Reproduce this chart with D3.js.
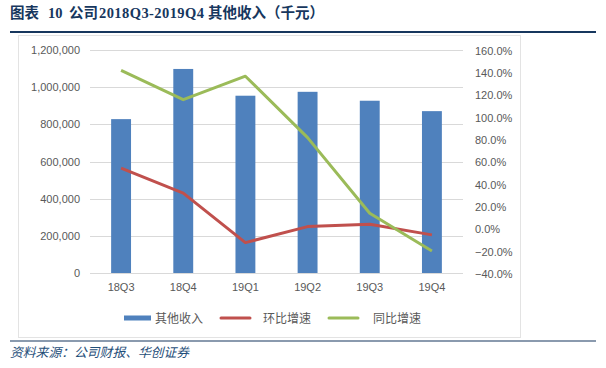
<!DOCTYPE html>
<html><head><meta charset="utf-8">
<script src="https://cdn.jsdelivr.net/npm/d3@7"></script>
<style>
html,body{margin:0;padding:0;background:#fff;}
svg{display:block;}
</style></head>
<body>
<script>
const categories = ["18Q3","18Q4","19Q1","19Q2","19Q3","19Q4"];
const otherIncome = [828000, 1098000, 954000, 975000, 927000, 871000];
const qoqGrowth = [0.548, 0.324, -0.119, 0.024, 0.045, -0.05];
const yoyGrowth = [1.423, 1.16, 1.37, 0.82, 0.144, -0.194];
const leftTicks = [0, 200000, 400000, 600000, 800000, 1000000, 1200000];
const rightTicks = [-0.4,-0.2,0,0.2,0.4,0.6,0.8,1.0,1.2,1.4,1.6];
const legendLabels = ["其他收入","环比增速","同比增速"];
const titleParts = ["图表", "10", "公司", "2018Q3-2019Q4", "其他收入", "（千元）"];
const sourceText = "资料来源：公司财报、华创证券";

const W = 606, H = 368;
const svg = d3.select("body").append("svg").attr("width", W).attr("height", H);

const navy = "#17375e";
const barColor = "#4f81bd", red = "#c0504d", green = "#9bbb59";
const grid = "#d9d9d9", labelColor = "#595959";
const sans = "'Liberation Sans', Arial, sans-serif";
const cjk = "'Noto Sans CJK SC', sans-serif";

// Title
const title = svg.append("text").attr("y", 18)
  .attr("font-family", "'Liberation Serif', 'Noto Sans CJK SC', serif")
  .attr("font-weight", "bold").attr("font-size", 14.5).attr("fill", navy);
const titleX = [10, 48, 69, 99, 208, 266];
titleParts.forEach((t, i) => {
  const ts = title.append("tspan").attr("x", titleX[i]).text(t);
  if (i === 3) ts.attr("textLength", 105).attr("lengthAdjust", "spacing");
});
svg.append("line").attr("x1", 10).attr("x2", 596).attr("y1", 32).attr("y2", 32)
  .attr("stroke", navy).attr("stroke-width", 2);

// Chart box
svg.append("rect").attr("x", 18.5).attr("y", 35.5).attr("width", 502).attr("height", 302)
  .attr("fill", "#fff").attr("stroke", "#e3e3e3").attr("stroke-width", 1);

// Bottom rule + source
svg.append("line").attr("x1", 10).attr("x2", 596).attr("y1", 341).attr("y2", 341)
  .attr("stroke", navy).attr("stroke-width", 1.2);
svg.append("text").attr("x", 10).attr("y", 357)
  .attr("font-family", cjk).attr("font-style", "italic").attr("font-size", 12.8)
  .attr("fill", "#1f4e79").text(sourceText);

// Scales
const x = d3.scaleBand().domain(categories).range([90, 463]).paddingInner(0.68).paddingOuter(0.34);
const yL = d3.scaleLinear().domain([0, 1200000]).range([273, 50]);
const yR = d3.scaleLinear().domain([-0.4, 1.6]).range([274, 50.5]);

// Gridlines
svg.append("g").selectAll("line").data(leftTicks).join("line")
  .attr("x1", 90).attr("x2", 463)
  .attr("y1", d => Math.round(yL(d)) + 0.5).attr("y2", d => Math.round(yL(d)) + 0.5)
  .attr("stroke", grid).attr("stroke-width", 1);

// Left axis
const fmtL = d3.format(",");
const axL = svg.append("g").attr("transform", "translate(88,0)")
  .call(d3.axisLeft(yL).tickValues(leftTicks).tickFormat(fmtL).tickSize(0).tickPadding(8));
axL.select(".domain").remove();
axL.selectAll("text").attr("font-family", sans).attr("font-size", 11).attr("fill", labelColor);

// Right axis
const fmtR = d3.format(".1%");
const axR = svg.append("g").attr("transform", "translate(467,0)")
  .call(d3.axisRight(yR).tickValues(rightTicks).tickFormat(fmtR).tickSize(0).tickPadding(8));
axR.select(".domain").remove();
axR.selectAll("text").attr("font-family", sans).attr("font-size", 11).attr("fill", labelColor);

// Bars
svg.append("g").selectAll("rect").data(categories).join("rect")
  .attr("x", d => x(d)).attr("width", x.bandwidth())
  .attr("y", (d, i) => yL(otherIncome[i]))
  .attr("height", (d, i) => yL(0) - yL(otherIncome[i]))
  .attr("fill", barColor);

// Bottom x axis
const axB = svg.append("g").attr("transform", "translate(0,273)")
  .call(d3.axisBottom(x).tickSize(0).tickPadding(10));
axB.select(".domain").remove();
axB.selectAll("text").attr("font-family", sans).attr("font-size", 11).attr("fill", labelColor);

// Lines
const cx = d => x(d) + x.bandwidth() / 2;
const lineQ = d3.line().x((d, i) => cx(categories[i])).y(d => yR(d));
svg.append("path").datum(qoqGrowth).attr("d", lineQ)
  .attr("fill", "none").attr("stroke", red).attr("stroke-width", 3).attr("stroke-linejoin", "round");
svg.append("path").datum(yoyGrowth).attr("d", lineQ)
  .attr("fill", "none").attr("stroke", green).attr("stroke-width", 3).attr("stroke-linejoin", "round");

// Legend
const legY = 318;
const leg = svg.append("g");
const items = [
  {type: "bar", color: barColor, x: 124, tx: 155},
  {type: "line", color: red, x: 221, tx: 263},
  {type: "line", color: green, x: 329, tx: 373}
];
items.forEach((it, i) => {
  if (it.type === "bar") {
    leg.append("rect").attr("x", it.x).attr("y", legY - 2.5).attr("width", 27).attr("height", 5).attr("fill", it.color);
  } else {
    leg.append("line").attr("x1", it.x).attr("x2", it.x + 29).attr("y1", legY).attr("y2", legY)
      .attr("stroke", it.color).attr("stroke-width", 3).attr("stroke-linecap", "round");
  }
  leg.append("text").attr("x", it.tx).attr("y", legY + 4.5)
    .attr("font-family", cjk).attr("font-size", 12).attr("fill", labelColor).text(legendLabels[i]);
});
</script>
</body></html>
